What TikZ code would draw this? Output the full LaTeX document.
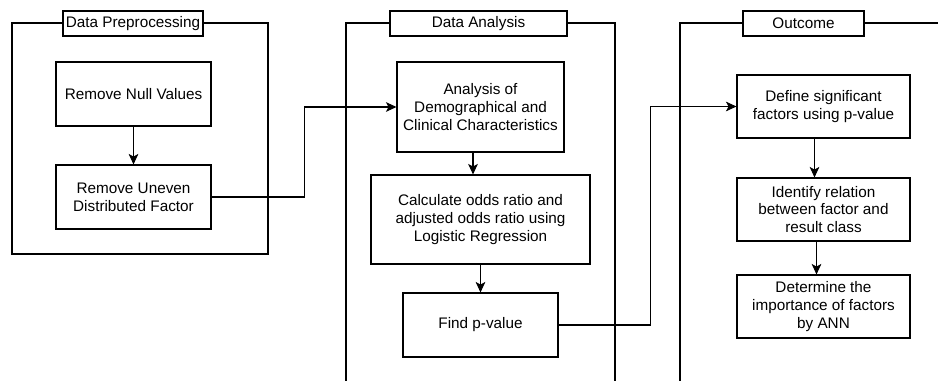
\documentclass[tikz,border=0pt]{standalone}
\usepackage{fontspec}
\setmainfont{Liberation Sans}
\usetikzlibrary{arrows.meta, positioning, calc}

\begin{document}
\begin{tikzpicture}[
    stepbox/.style={
        rectangle, draw, line width=0.6pt, fill=white,
        align=center, inner sep=2pt,
        font=\fontsize{8.7}{10.2}\selectfont
    },
    phase/.style={
        rectangle, draw, line width=0.6pt, fill=white,
        minimum height=0.5cm, inner sep=1pt,
        font=\fontsize{8.7}{10.2}\selectfont
    },
    frame/.style={line width=0.6pt},
    >={Stealth[length=6pt, width=5.5pt, inset=1.5pt]}, line width=0.6pt
]
\useasboundingbox (0,0) rectangle (18.76,-7.62);

% frames
\draw[frame] (0.24,-0.46) rectangle (5.36,-5.08);
\draw[frame] (6.92,-7.62) |- (12.30,-0.46) -- (12.30,-7.62);
\draw[frame] (13.60,-7.62) |- (18.76,-0.46);

\node[phase, minimum width=2.80cm] (pretitle) at (2.66, -0.47)  {Data Preprocessing};
\node[phase, minimum width=3.54cm] (anatitle) at (9.57, -0.47)  {Data Analysis};
\node[phase, minimum width=2.42cm] (outtitle) at (16.07, -0.47) {Outcome};

% preprocessing
\node[stepbox, minimum width=3.10cm, minimum height=1.28cm] (nullval) at (2.67, -1.88) {Remove Null Values};
\node[stepbox, minimum width=3.10cm, minimum height=1.28cm] (uneven)  at (2.67, -3.94) {Remove Uneven\\Distributed Factor};

% analysis
\node[stepbox, minimum width=3.34cm, minimum height=1.80cm] (demog) at (9.61, -2.14) {Analysis of\\Demographical and\\Clinical Characteristics};
\node[stepbox, minimum width=4.38cm, minimum height=1.78cm] (odds)  at (9.61, -4.39) {Calculate odds ratio and\\adjusted odds ratio using\\Logistic Regression};
\node[stepbox, minimum width=3.10cm, minimum height=1.28cm] (pval)  at (9.61, -6.50) {Find p-value};

% outcome
\node[stepbox, minimum width=3.46cm, minimum height=1.26cm] (signif)   at (16.47, -2.13) {Define significant\\factors using p-value};
\node[stepbox, minimum width=3.46cm, minimum height=1.26cm] (relation) at (16.47, -4.19) {Identify relation\\between factor and\\result class};
\node[stepbox, minimum width=3.46cm, minimum height=1.26cm] (ann)      at (16.47, -6.13) {Determine the\\importance of factors\\by ANN};

\draw[->] (nullval) -- (uneven);
\draw[->] ([xshift=-0.15cm]demog.south) -- ([xshift=-0.15cm]demog.south |- odds.north);
\draw[->] (odds) -- (pval);
\draw[->] ([xshift=-0.18cm]signif.south) -- ([xshift=-0.18cm]signif.south |- relation.north);
\draw[->] ([xshift=-0.14cm]relation.south) -- ([xshift=-0.14cm]relation.south |- ann.north);

\draw[->] (uneven.east) -- ++(1.86,0) |- (demog.west);
\draw[->] (pval.east) -- ++(1.84,0) |- (signif.west);

\end{tikzpicture}
\end{document}
